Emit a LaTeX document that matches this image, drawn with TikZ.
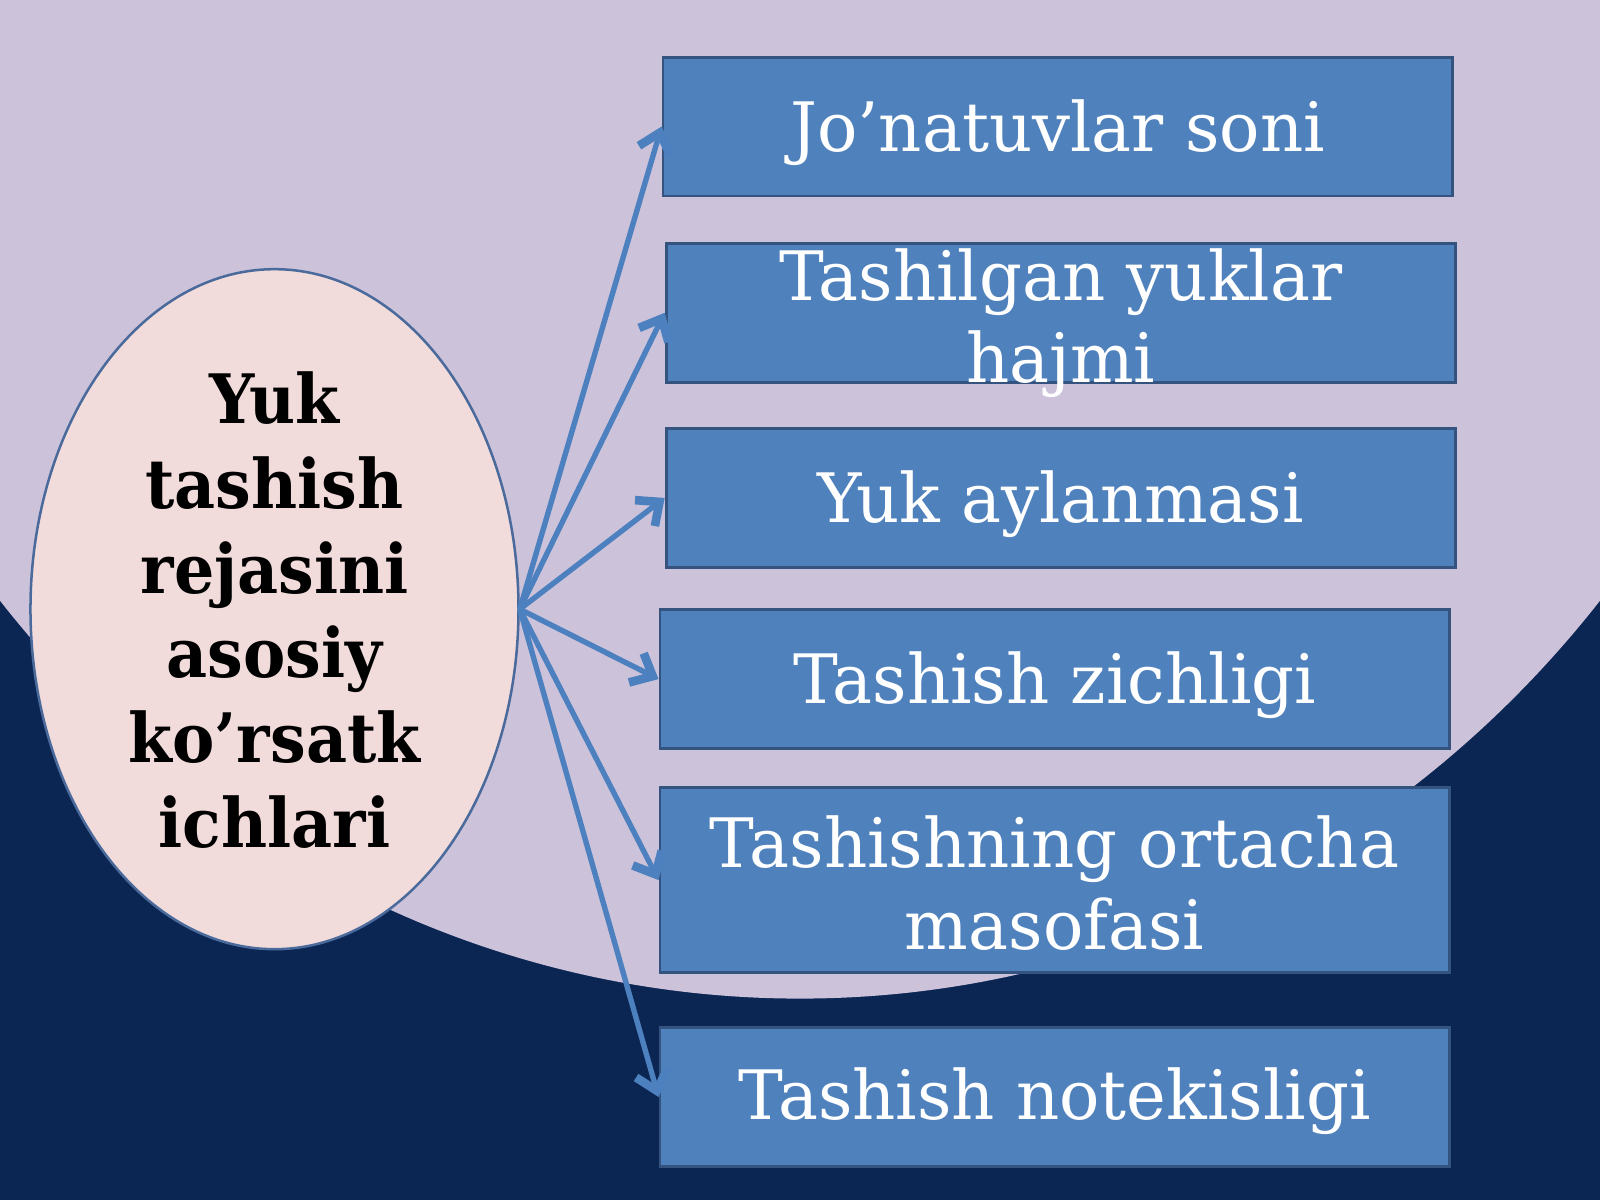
\documentclass[tikz,border=0pt]{standalone}
\usepackage{fontspec}
\setmainfont{DejaVu Serif}[FakeStretch=0.985]
\newfontfamily\elfont{DejaVu Serif}[FakeStretch=0.93]
\usetikzlibrary{shapes.geometric,arrows.meta}
\definecolor{lav}{HTML}{CCC2DA}
\definecolor{navy}{HTML}{0C2654}
\definecolor{boxfill}{HTML}{4F81BD}
\definecolor{boxline}{HTML}{34547F}
\definecolor{elfill}{HTML}{F2DCDB}
\definecolor{elline}{HTML}{4A6A9C}
\definecolor{arr}{HTML}{4C80BE}
\tikzset{
  bx/.style={draw=boxline, line width=0.8pt, fill=boxfill, rectangle, inner sep=0pt, minimum width=7.73cm, minimum height=1.36cm},
  bxt/.style={text=white, font=\fontsize{19}{22.8}\selectfont, align=center, inner sep=0pt},
  arrline/.style={draw=arr, line width=1.5pt, -{Straight Barb[length=0.18cm, width=0.32cm, line width=2.4pt]}},
}
\begin{document}
\begin{tikzpicture}[x=0.01cm, y=-0.01cm]
\useasboundingbox (0,0) rectangle (1568,1176);
\begin{scope}
\clip (0,0) rectangle (1568,1176);
\fill[navy] (0,0) rectangle (1568,1176);
\fill[lav] (784,-100) ellipse [x radius=10.18cm, y radius=10.78cm];
\end{scope}
% central ellipse
\node[ellipse, draw=elline, line width=0.7pt, fill=elfill, minimum width=4.78cm, minimum height=6.66cm, inner sep=0pt] (el) at (269,597) {};
\node[align=center, font=\elfont\bfseries\fontsize{19}{23.6}\selectfont, inner sep=0pt] (elt) at (269,598) {Yuk\\tashish\\rejasini\\asosiy\\ko’rsatk\\ichlari};
% boxes
\node[bx] (b1) at (1036.5,124) {};
\node[bx] (b2) at (1039.5,306.5) {};
\node[bx] (b3) at (1039.5,488) {};
\node[bx] (b4) at (1033.5,665.5) {};
\node[bx, minimum height=1.81cm] (b5) at (1033.5,862.5) {};
\node[bx] (b6) at (1033.5,1075) {};
\node[bxt] (t1) at ([yshift=-0.06cm]b1.center) {Jo’natuvlar soni};
\node[bxt] (t2) at ([yshift=-0.10cm]b2.center) {Tashilgan yuklar\\hajmi};
\node[bxt] (t3) at ([yshift=-0.06cm]b3.center) {Yuk aylanmasi};
\node[bxt] (t4) at ([yshift=-0.06cm]b4.center) {Tashish zichligi};
\node[bxt] (t5) at ([yshift=-0.03cm]b5.center) {Tashishning ortacha\\masofasi};
\node[bxt] (t6) at ([yshift=-0.04cm]b6.center) {Tashish notekisligi};
% arrows
\foreach \b in {b1,b2,b3,b4,b5,b6}
  \draw[arrline] (el.east) -- (\b.west);
\end{tikzpicture}
\end{document}
